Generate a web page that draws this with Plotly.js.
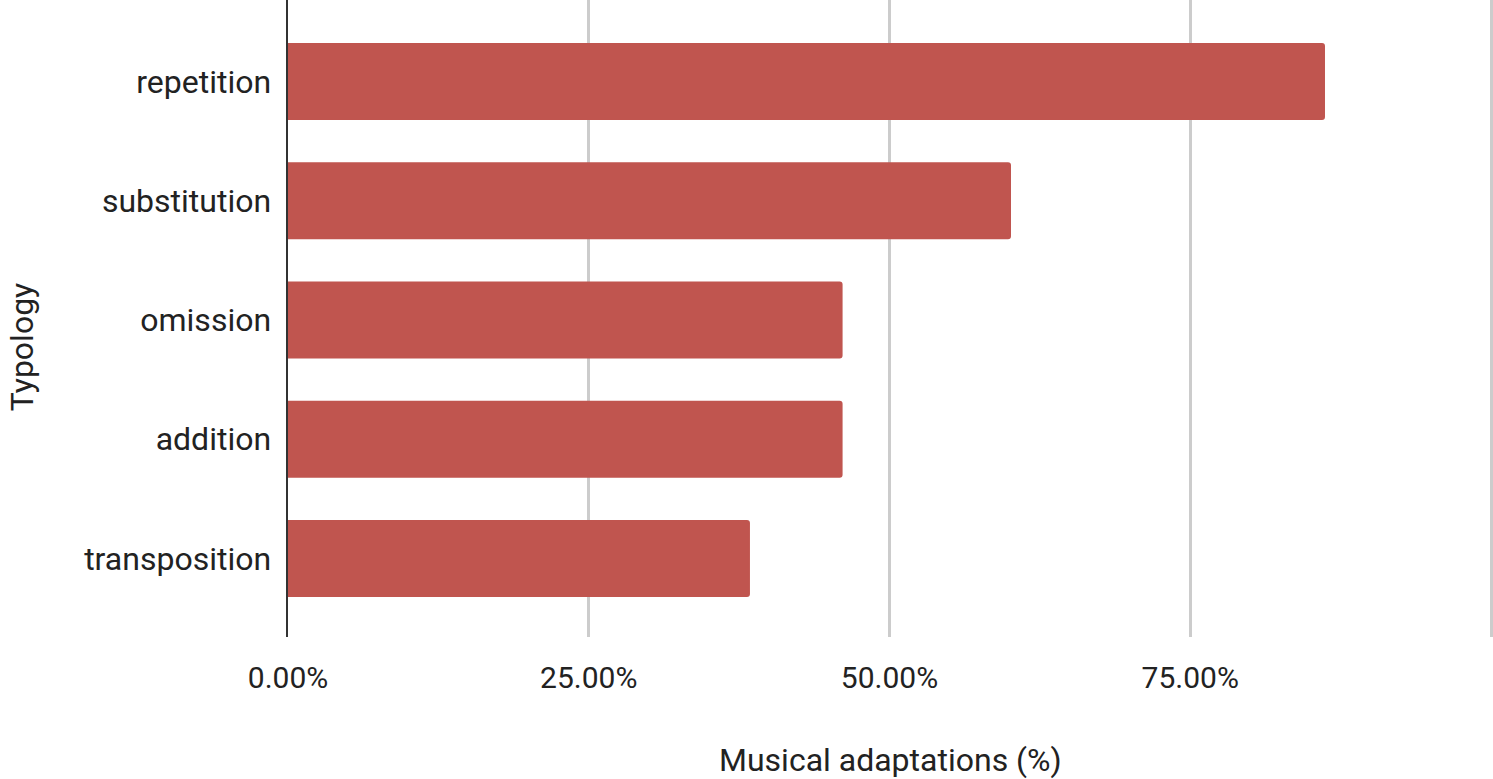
<!DOCTYPE html>
<html>
<head>
<meta charset="utf-8">
<script src="https://cdn.plot.ly/plotly-3.0.1.min.js"></script>
<style>html,body{margin:0;padding:0;background:#fff;}#chart{width:1493px;height:779px;}</style>
</head>
<body>
<div id="chart"></div>
<script>
const categories = ["repetition", "substitution", "omission", "addition", "transposition"];
const values = [0.862, 0.601, 0.461, 0.461, 0.384];
const xTickVals = [0, 0.25, 0.5, 0.75, 1.0];
const xTickText = ["0.00%", "25.00%", "50.00%", "75.00%", ""];
const xTitle = "Musical adaptations (%)";
const yTitle = "Typology";

const fontFamily = "Roboto, 'Noto Sans', sans-serif";

const trace = {
  type: "bar",
  orientation: "h",
  x: values,
  y: categories,
  width: 0.646,
  marker: { color: "#c0554f", cornerradius: 3, line: { width: 0 } },
  hoverinfo: "x+y"
};

const layout = {
  width: 1493,
  height: 779,
  margin: { l: 288, r: 0, t: 0, b: 142 },
  paper_bgcolor: "#ffffff",
  plot_bgcolor: "#ffffff",
  showlegend: false,
  font: { family: fontFamily, size: 32, color: "#222222" },
  xaxis: {
    range: [0, 1.00166],
    tickvals: xTickVals,
    ticktext: xTickText,
    showgrid: true,
    gridcolor: "#cccccc",
    gridwidth: 3,
    zeroline: false,
    showline: false,
    ticks: "",
    ticklabelstandoff: 20,
    tickfont: { size: 30, color: "#222222" }
  },
  yaxis: {
    type: "category",
    range: [4.659, -0.683],
    showgrid: false,
    zeroline: false,
    showline: true,
    linecolor: "#333333",
    linewidth: 2.5,
    ticks: "",
    ticklabelstandoff: 8,
    tickfont: { size: 32, color: "#222222" }
  },
  annotations: [
    { text: xTitle, xref: "paper", yref: "paper", x: 0.4996, y: -0.1935, xanchor: "center", yanchor: "middle", showarrow: false, font: { size: 32, color: "#222222" } },
    { text: yTitle, xref: "paper", yref: "paper", x: -0.2207, y: 0.455, xanchor: "center", yanchor: "middle", textangle: -90, showarrow: false, font: { size: 32, color: "#222222" } }
  ]
};

Plotly.newPlot("chart", [trace], layout, { displayModeBar: false, staticPlot: true });
</script>
</body>
</html>
